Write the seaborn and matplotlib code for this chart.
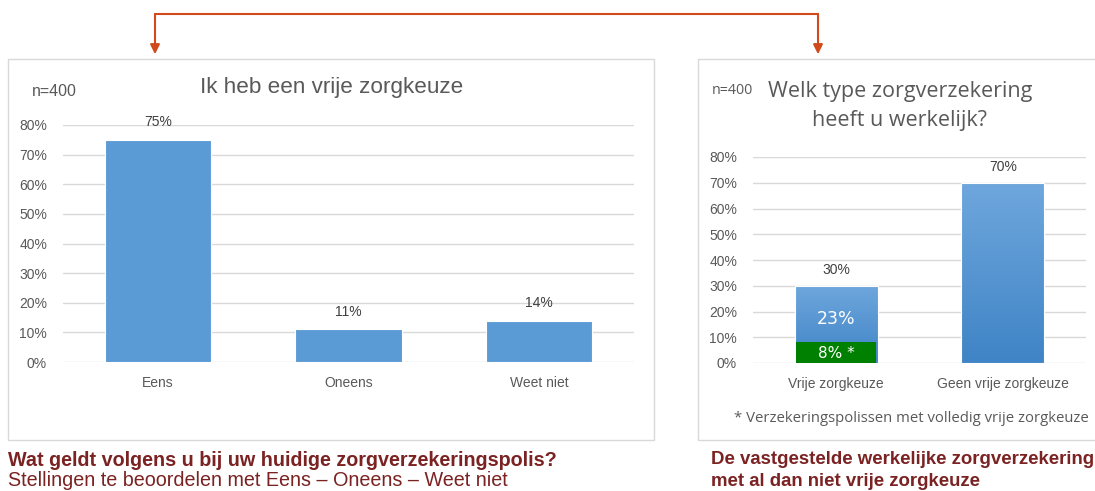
import numpy as np
import matplotlib
matplotlib.use("Agg")
import matplotlib.pyplot as plt
import seaborn as sns
from matplotlib.patches import Rectangle
from matplotlib.colors import LinearSegmentedColormap

# data
stelling_cats = ["Eens", "Oneens", "Weet niet"]
stelling_vals = [75, 11, 14]

type_cats = ["Vrije zorgkeuze", "Geen vrije zorgkeuze"]
type_totals = [30, 70]
volledig_vrij = [8, 0]      # groen deel
beperkt_label = [23]        # blauw deel boven groen

yticks = [0, 10, 20, 30, 40, 50, 60, 70, 80]

sns.set_theme(style="white")
plt.rcParams["font.family"] = ["Liberation Sans", "DejaVu Sans"]

W, H = 1095, 491
fig = plt.figure(figsize=(W / 100, H / 100), dpi=100)

DARKRED = "#7B2222"
ARROW = "#D04A1C"
GRID = "#D9D9D9"
TICK = "#595959"
BLUE = "#5B9BD5"


def fx(x):
    return x / W


def fy(y):
    return 1 - y / H


def axes_px(x0, x1, y_top, y_bot):
    return fig.add_axes([fx(x0), fy(y_bot), (x1 - x0) / W, (y_bot - y_top) / H])


# panel frames
for x0, x1 in [(8, 654), (698, 1110)]:
    fig.add_artist(Rectangle((fx(x0), fy(440)), (x1 - x0) / W, (440 - 59) / H,
                             transform=fig.transFigure, fill=False,
                             edgecolor=GRID, lw=1.0, clip_on=False))


def style_axes(ax):
    ax.set_ylim(0, 80)
    ax.set_yticks(yticks)
    ax.set_yticklabels([f"{t}%" for t in yticks])
    ax.yaxis.grid(True, color=GRID, lw=1)
    ax.set_axisbelow(True)
    for s in ax.spines.values():
        s.set_visible(False)
    ax.set_xlabel("")
    ax.set_ylabel("")
    ax.tick_params(axis="both", length=0, labelsize=10, labelcolor=TICK)
    ax.tick_params(axis="y", pad=11.5)
    ax.tick_params(axis="x", pad=10)
    ax.patch.set_alpha(0)


# left chart
ax1 = axes_px(63, 634, 125, 362)
sns.barplot(x=stelling_cats, y=stelling_vals, color=BLUE, width=0.56,
            saturation=1, edgecolor="white", linewidth=0.8, ax=ax1)
style_axes(ax1)
for i, v in enumerate(stelling_vals):
    ax1.text(i, v + 3.5, f"{v}%", ha="center", va="bottom", fontsize=10, color="#404040")

fig.text(fx(332), fy(88), "Ik heb een vrije zorgkeuze", ha="center", va="center",
         fontsize=16.2, color=TICK)
fig.text(fx(32), fy(91), "n=400", ha="left", va="center", fontsize=11.5, color=TICK)

# right chart
ax2 = axes_px(753, 1086, 157, 363)
sns.barplot(x=type_cats, y=type_totals, color=BLUE, width=0.5,
            saturation=1, edgecolor="white", linewidth=0.8, ax=ax2)
grad_cmap = LinearSegmentedColormap.from_list("g", ["#3F84C6", "#6FA7DD"])
grad = np.linspace(0, 1, 256).reshape(-1, 1)
for p in list(ax2.patches):
    x, y0 = p.get_x(), p.get_y()
    w, h = p.get_width(), p.get_height()
    im = ax2.imshow(grad, extent=[x, x + w, y0, y0 + h], origin="lower",
                    cmap=grad_cmap, aspect="auto", zorder=2)
    im.set_clip_path(p)
    p.set_facecolor("none")
    p.set_zorder(3)

sns.barplot(x=type_cats, y=volledig_vrij, color="#008000", width=0.48,
            saturation=1, linewidth=0, ax=ax2)
for p in ax2.patches[2:]:
    p.set_zorder(4)
ax2.set_xlim(-0.5, 1.5)
style_axes(ax2)

for i, v in enumerate(type_totals):
    ax2.text(i, v + 3.5, f"{v}%", ha="center", va="bottom", fontsize=10, color="#404040")
ax2.text(0, volledig_vrij[0] + (type_totals[0] - volledig_vrij[0]) / 2 - 1.8,
         f"{beperkt_label[0]}%", ha="center", va="center", fontsize=12.5,
         color="white", family=["DejaVu Sans"], zorder=5)
ax2.text(0, volledig_vrij[0] / 2 - 0.3, f"{volledig_vrij[0]}% *", ha="center", va="center",
         fontsize=11, color="white", family=["DejaVu Sans"], zorder=5)

fig.text(fx(900), fy(106), "Welk type zorgverzekering\nheeft u werkelijk?", ha="center",
         va="center", fontsize=15.5, color=TICK, family=["Open Sans", "DejaVu Sans"],
         linespacing=1.55)
fig.text(fx(712), fy(90), "n=400", ha="left", va="center", fontsize=10.3, color=TICK,
         family=["Open Sans", "DejaVu Sans"])
fig.text(fx(734), fy(418), "* Verzekeringspolissen met volledig vrije zorgkeuze",
         ha="left", va="center", fontsize=10.7, color=TICK,
         family=["Open Sans", "DejaVu Sans"])

# arrows
fig.add_artist(plt.Line2D([fx(155), fx(818)], [fy(14), fy(14)], transform=fig.transFigure,
                          color=ARROW, lw=1.5))
for xa in [155, 818]:
    fig.add_artist(plt.Line2D([fx(xa), fx(xa)], [fy(14), fy(48)],
                              transform=fig.transFigure, color=ARROW, lw=1.5))
    plt.annotate("", xy=(xa, H - 57), xytext=(xa, H - 45), xycoords="figure pixels",
                 textcoords="figure pixels",
                 arrowprops=dict(arrowstyle="-|>", color=ARROW, lw=1.5, mutation_scale=14))

# bottom texts
fig.text(fx(8), fy(460), "Wat geldt volgens u bij uw huidige zorgverzekeringspolis?",
         ha="left", va="center", fontsize=14.2, fontweight="bold", color=DARKRED)
fig.text(fx(8), fy(481), "Stellingen te beoordelen met Eens \u2013 Oneens \u2013 Weet niet",
         ha="left", va="center", fontsize=14.2, color=DARKRED)
fig.text(fx(711), fy(460), "De vastgestelde werkelijke zorgverzekering",
         ha="left", va="center", fontsize=13.4, fontweight="bold", color=DARKRED)
fig.text(fx(711), fy(481), "met al dan niet vrije zorgkeuze",
         ha="left", va="center", fontsize=13.4, fontweight="bold", color=DARKRED)

fig.savefig("out.png", dpi=100, facecolor="white")
